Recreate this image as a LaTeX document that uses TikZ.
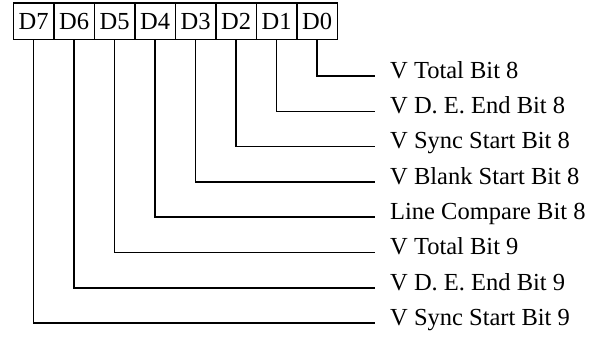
\documentclass[tikz,border=0pt]{standalone}
\usepackage{fontspec}
\setmainfont{Liberation Serif}
\usepackage{tikz}
\usetikzlibrary{positioning}
\tikzset{
  bitbox/.style={draw, line width=1.5pt, outer sep=0pt, inner sep=0pt,
    minimum width=40.5pt, minimum height=36.5pt},
  bitlabel/.style={anchor=mid west, inner xsep=15pt, inner ysep=0pt},
  bitwire/.style={line width=1.5pt}
}

\begin{document}
\begin{tikzpicture}[x=1pt, y=-1pt,
    font=\fontsize{24.5pt}{29pt}\selectfont]
    \useasboundingbox (0,0) rectangle (603,339);
    \node[bitbox] (d7) at (33.55,21.5) {D7};
    \node[bitbox, right=0pt of d7] (d6) {D6};
    \node[bitbox, right=0pt of d6] (d5) {D5};
    \node[bitbox, right=0pt of d5] (d4) {D4};
    \node[bitbox, right=0pt of d4] (d3) {D3};
    \node[bitbox, right=0pt of d3] (d2) {D2};
    \node[bitbox, right=0pt of d2] (d1) {D1};
    \node[bitbox, right=0pt of d1] (d0) {D0};
    \node[bitlabel] (l0) at (375,76) {V Total Bit 8};
    \node[bitlabel] (l1) at (375,111.3) {V D. E. End Bit 8};
    \node[bitlabel] (l2) at (375,146.6) {V Sync Start Bit 8};
    \node[bitlabel] (l3) at (375,181.9) {V Blank Start Bit 8};
    \node[bitlabel] (l4) at (375,217.2) {Line Compare Bit 8};
    \node[bitlabel] (l5) at (375,252.5) {V Total Bit 9};
    \node[bitlabel] (l6) at (375,287.8) {V D. E. End Bit 9};
    \node[bitlabel] (l7) at (375,323.1) {V Sync Start Bit 9};
    \draw[bitwire] (d0.south) |- (l0.mid west);
    \draw[bitwire] (d1.south) |- (l1.mid west);
    \draw[bitwire] (d2.south) |- (l2.mid west);
    \draw[bitwire] (d3.south) |- (l3.mid west);
    \draw[bitwire] (d4.south) |- (l4.mid west);
    \draw[bitwire] (d5.south) |- (l5.mid west);
    \draw[bitwire] (d6.south) |- (l6.mid west);
    \draw[bitwire] (d7.south) |- (l7.mid west);
\end{tikzpicture}
\end{document}
